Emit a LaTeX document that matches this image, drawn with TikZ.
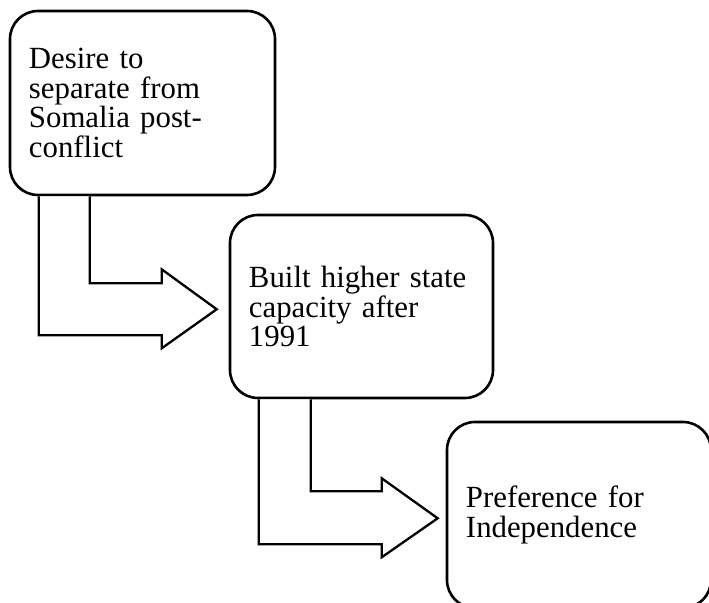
\documentclass[tikz,border=0pt]{standalone}
\usepackage{fontspec}
\setmainfont{Liberation Serif}
\usepackage{tikz}
\usetikzlibrary{calc}

\begin{document}
\begin{tikzpicture}[x=0.5pt,y=-0.5pt,
    stage/.style={draw=black,line width=1.3pt,rounded corners=14pt,fill=white,
      align=left,inner xsep=9.5pt,inner ysep=0pt,
      font=\fontsize{15.4pt}{14.7pt}\selectfont},
    bentarrow/.style={draw=black,line width=1.15pt,fill=white,line join=miter}]
  \useasboundingbox (0,0) rectangle (709,603);

  % Stages
  \node[stage,text width=113.5pt,minimum height=92pt] (desire) at (142.5,103)
    {Desire to\\separate from\\Somalia post-\\conflict};
  \node[stage,text width=112.5pt,minimum height=91.5pt] (capacity) at (361.5,306.5)
    {Built higher state\\capacity after\\1991};
  \node[stage,text width=113pt,minimum height=93pt] (preference) at (579,515)
    {Preference for\\Independence\\[2pt]};

  % Bent block arrows
  \draw[bentarrow] ([shift={(30,0)}]desire.south west) -- ++(0,139) -- ++(123,0)
    -- ++(0,13) -- ++(55,-39) -- ++(-55,-40) -- ++(0,14) -- ++(-72,0)
    -- ([shift={(81,0)}]desire.south west);
  \draw[bentarrow] ([shift={(30,0)}]capacity.south west) -- ++(0,145) -- ++(123,0)
    -- ++(0,13) -- ++(56,-39) -- ++(-56,-40) -- ++(0,13) -- ++(-71,0)
    -- ([shift={(82,0)}]capacity.south west);
\end{tikzpicture}
\end{document}
